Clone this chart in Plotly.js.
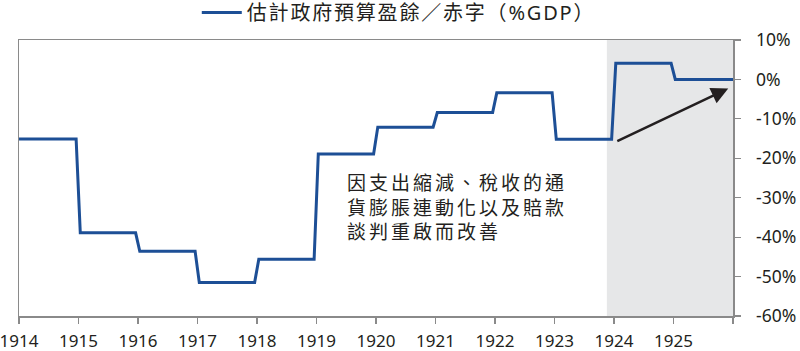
<!DOCTYPE html>
<html>
<head>
<meta charset="utf-8">
<script src="https://cdn.plot.ly/plotly-3.0.1.min.js"></script>
<style>
html,body{margin:0;padding:0;background:#fff;}
#chart{width:800px;height:351px;}
.annotation-text{letter-spacing:3px;}
.legendtext{letter-spacing:1.8px;}
</style>
</head>
<body>
<div id="chart"></div>
<script>
// Data
const years = [1914,1915,1916,1917,1918,1919,1920,1921,1922,1923,1924,1925];
const balance = [-15.1,-38.9,-43.6,-51.5,-45.6,-18.9,-12.1,-8.4,-3.4,-15.2,4.1,0.0];
const seriesName = '估計政府預算盈餘／赤字（%GDP）';
const xTickVals = [1914,1915,1916,1917,1918,1919,1920,1921,1922,1923,1924,1925,1926];
const xTickText = ['1914','1915','1916','1917','1918','1919','1920','1921','1922','1923','1924','1925',''];
const yTickVals = [10,0,-10,-20,-30,-40,-50,-60];
const yTickText = ['10%','0%','-10%','-20%','-30%','-40%','-50%','-60%'];
const forecastStart = 1923.88;
const forecastEnd = 1926;
const arrowFrom = [1924.03, -15.8];
const arrowTo = [1925.92, -2.3];
const noteText = '因支出縮減、稅收的通<br>貨膨脹連動化以及賠款<br>談判重啟而改善';

// Build stepped line (each year's value held across the year)
const xs = [], ys = [];
years.forEach((yr, i) => {
  const start = i === 0 ? yr : yr + 0.03;
  const end = i === years.length - 1 ? yr + 1 : yr + 0.96;
  xs.push(start, end);
  ys.push(balance[i], balance[i]);
});

const fontFam = 'Noto Sans, Noto Sans CJK TC, sans-serif';
const textCol = '#231f20';
const axisCol = '#8a8a8a';

const trace = {
  x: xs, y: ys, type: 'scatter', mode: 'lines',
  name: seriesName,
  line: {color: '#1d4f96', width: 3},
  hoverinfo: 'skip'
};

const layout = {
  width: 800, height: 351,
  margin: {l: 19, r: 67, t: 40, b: 35, autoexpand: false},
  paper_bgcolor: '#fff', plot_bgcolor: '#fff',
  font: {family: fontFam, color: textCol, size: 17},
  showlegend: true,
  legend: {
    orientation: 'h', x: 0.249, xanchor: 'left', y: 1.1, yanchor: 'middle',
    yref: 'paper',
    font: {family: fontFam, size: 20, color: textCol},
    bgcolor: 'rgba(0,0,0,0)', itemwidth: 40
  },
  xaxis: {
    range: [1914, 1926], tickmode: 'array', tickvals: xTickVals, ticktext: xTickText,
    showgrid: false, zeroline: false, showline: true, linecolor: axisCol, linewidth: 1.5,
    mirror: true, ticks: 'outside', ticklen: 6, tickwidth: 1.2, tickcolor: axisCol,
    ticklabeloverflow: 'allow', ticklabelstandoff: 3,
    tickfont: {family: fontFam, size: 17, color: textCol}, fixedrange: true
  },
  yaxis: {
    range: [-60, 10], side: 'right', tickmode: 'array', tickvals: yTickVals, ticktext: yTickText,
    showgrid: false, zeroline: false, showline: true, linecolor: axisCol, linewidth: 1.5,
    mirror: true, ticks: 'outside', ticklen: 6, tickwidth: 1.2, tickcolor: axisCol,
    ticklabeloverflow: 'allow',
    tickfont: {family: fontFam, size: 17.5, color: textCol}, ticklabelstandoff: 12, fixedrange: true
  },
  shapes: [{
    type: 'rect', xref: 'x', yref: 'y', x0: forecastStart, x1: forecastEnd, y0: -60, y1: 10,
    fillcolor: '#e6e7e8', line: {width: 0}, layer: 'below'
  }],
  annotations: [
    {
      x: arrowTo[0], y: arrowTo[1], xref: 'x', yref: 'y',
      ax: arrowFrom[0], ay: arrowFrom[1], axref: 'x', ayref: 'y',
      text: '', showarrow: true, arrowhead: 2, arrowsize: 1.35, arrowwidth: 2.5,
      arrowcolor: textCol, standoff: 0, startstandoff: 0
    },
    {
      x: 1919.50, y: -32.1, xref: 'x', yref: 'y', xanchor: 'left', yanchor: 'middle',
      align: 'left', showarrow: false, text: noteText, borderpad: 0,
      font: {family: 'Noto Sans CJK TC, sans-serif', size: 19, color: textCol}
    }
  ]
};

Plotly.newPlot('chart', [trace], layout, {displayModeBar: false, staticPlot: true});
</script>
</body>
</html>
